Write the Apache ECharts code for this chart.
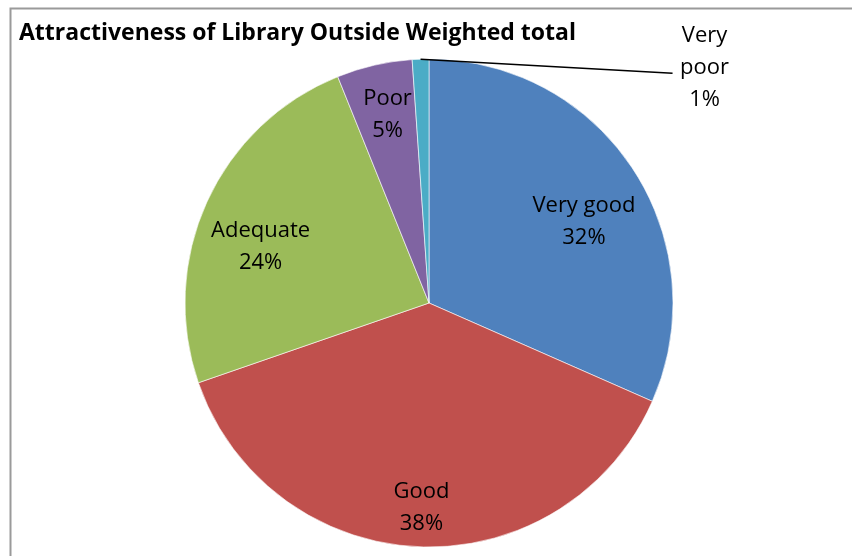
<!DOCTYPE html>
<html><head><meta charset="utf-8">
<script src="https://cdn.jsdelivr.net/npm/echarts@6/dist/echarts.min.js"></script>
<style>html,body{margin:0;padding:0;background:#fff}#c{width:852px;height:556px}</style>
</head><body><div id="c"></div>
<script>
const categories = ['Very good', 'Good', 'Adequate', 'Poor', 'Very poor'];
const values = [31.6, 38.1, 24.2, 5.0, 1.1];
const colors = ['#4F81BD', '#C0504D', '#9BBB59', '#8064A2', '#4BACC6'];
const titleText = 'Attractiveness of Library Outside Weighted total';

const chart = echarts.init(document.getElementById('c'), null, { renderer: 'canvas' });
const FONT = 'Open Sans';
const R = 244;
const CENTER = [429, 303];

const mainData = categories.map((n, i) => ({ name: n, value: values[i], itemStyle: { color: colors[i] } }));
const labelData = categories.map((n, i) => {
  const d = { name: n, value: values[i], itemStyle: { color: 'rgba(0,0,0,0)' } };
  if (i === categories.length - 1) {
    d.label = { position: 'outside' };
    d.labelLine = { show: true, length: 4, length2: 200, lineStyle: { color: '#000', width: 1.5 } };
  }
  return d;
});

const option = {
  animation: false,
  backgroundColor: '#fff',
  title: {
    text: titleText, left: 19, top: 22, padding: 0,
    textStyle: { fontFamily: FONT, fontWeight: 'bold', fontSize: 23, color: '#000' }
  },
  graphic: [{
    type: 'polyline', silent: true, z: 0,
    shape: { points: [[10.5, 560], [10.5, 8.5], [860, 8.5]] },
    style: { stroke: '#9a9a9a', lineWidth: 2, fill: null }
  }],
  series: [
    {
      type: 'pie', center: CENTER, radius: [0, R], startAngle: 90, clockwise: true,
      silent: true, label: { show: false }, labelLine: { show: false },
      itemStyle: { borderColor: '#fff', borderWidth: 0.6 },
      data: mainData
    },
    {
      type: 'pie', center: CENTER, radius: [120, R], startAngle: 90, clockwise: true,
      silent: true, z: 3,
      label: {
        show: true, position: 'inside', color: '#000', fontFamily: FONT, fontSize: 22, lineHeight: 32,
        formatter: p => (p.dataIndex === categories.length - 1 ? p.name.replace(' ', '\n') : p.name) + '\n' + Math.round(p.percent) + '%'
      },
      labelLine: { show: false },
      labelLayout: function (p) {
        if (p.dataIndex === 3) return { dy: -8 };
        if (p.dataIndex !== categories.length - 1) return { dy: 20 };
        if (!p.labelLinePoints) return {};
        const s = p.labelLinePoints[0];
        return {
          x: s[0] + 284, y: s[1] + 9, align: 'center', verticalAlign: 'middle',
          labelLinePoints: [s, [s[0] + 252, s[1] + 14]]
        };
      },
      data: labelData
    }
  ]
};
chart.setOption(option);
</script></body></html>
